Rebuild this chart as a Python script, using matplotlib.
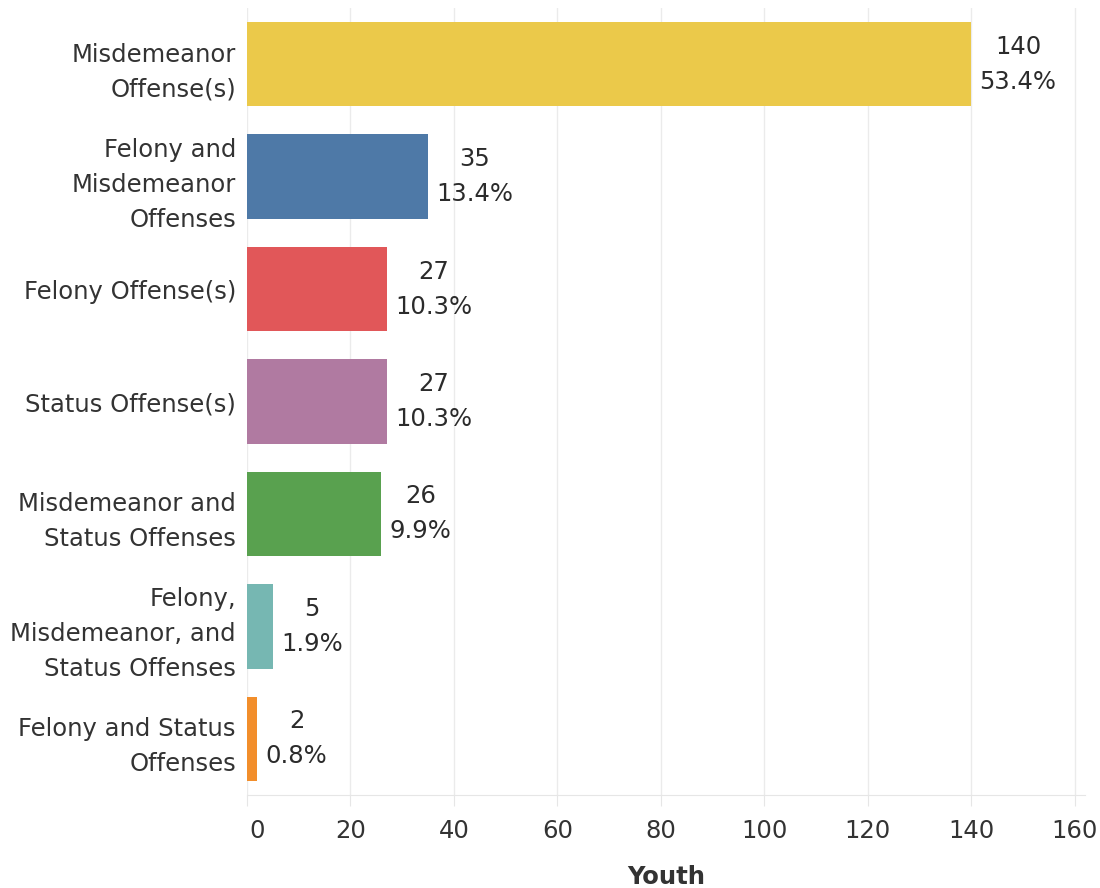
import numpy as np
import matplotlib
matplotlib.use("Agg")
import matplotlib.pyplot as plt
import matplotlib.transforms as mtransforms

# data
categories = [
    "Misdemeanor\nOffense(s)",
    "Felony and\nMisdemeanor\nOffenses",
    "Felony Offense(s)",
    "Status Offense(s)",
    "Misdemeanor and\nStatus Offenses",
    "Felony,\nMisdemeanor, and\nStatus Offenses",
    "Felony and Status\nOffenses",
]
youth = [140, 35, 27, 27, 26, 5, 2]
pct = ["53.4%", "13.4%", "10.3%", "10.3%", "9.9%", "1.9%", "0.8%"]
colors = ["#EBC94A", "#4E79A7", "#E15759", "#B07AA1", "#59A14F", "#76B7B2", "#F28E2B"]

plt.rcParams["font.family"] = ["DejaVu Sans"]
fs = 17.5
ls = 1.58

fig = plt.figure(figsize=(11, 8.88), dpi=100)
ax = fig.add_axes([247 / 1100, 1 - 795 / 888, 838 / 1100, 787 / 888])

y = np.arange(len(categories))
ax.barh(y, youth, height=0.75, color=colors, zorder=3)

for yi, v, p in zip(y, youth, pct):
    ax.annotate(f"{v}\n{p}", xy=(v, yi), xytext=(6, 0), textcoords="offset points",
                ha="left", va="center", multialignment="center",
                fontsize=fs, color="#2b2b2b", linespacing=ls)

ax.set_ylim(len(categories) - 0.5, -0.5)
ax.set_xlim(0, 162)
ax.set_yticks(y)
ax.set_yticklabels(categories, fontsize=fs, color="#333333", linespacing=ls,
                   multialignment="right")
ax.set_xticks(np.arange(0, 161, 20))
ax.tick_params(axis="x", labelsize=fs, labelcolor="#333333", color="#E6E6E6",
               length=8, pad=9)
ax.tick_params(axis="y", length=0, pad=8)

# first x tick label sits a bit to the right of the zero line
first = ax.get_xticklabels()[0]
first.set_transform(first.get_transform() +
                    mtransforms.ScaledTranslation(10 / 100, 0, fig.dpi_scale_trans))

ax.grid(axis="x", color="#EBEBEB", linewidth=1, zorder=0)
for s in ["top", "right", "left"]:
    ax.spines[s].set_visible(False)
ax.spines["bottom"].set_color("#E6E6E6")

ax.set_xlabel("Youth", fontsize=fs, fontweight="bold", color="#333333", labelpad=16)

fig.savefig("out.png", dpi=100)
